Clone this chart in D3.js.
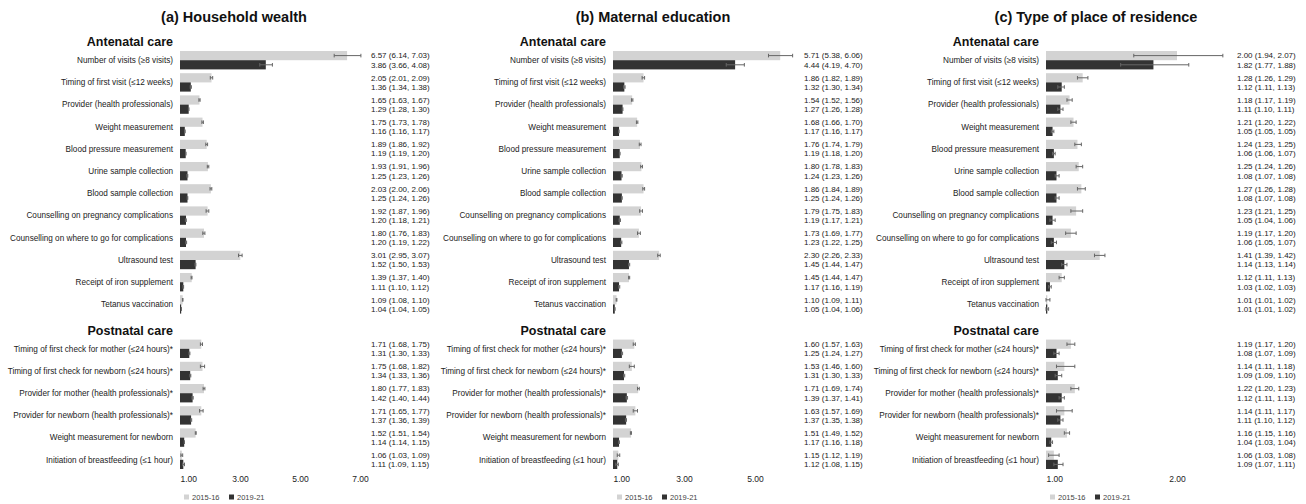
<!DOCTYPE html>
<html>
<head>
<meta charset="utf-8">
<script src="https://cdn.jsdelivr.net/npm/d3@7"></script>
<style>
  body { margin: 0; background: #fff; }
  text { font-family: "Liberation Sans", Arial, sans-serif; fill: #222; }
</style>
</head>
<body>
<svg id="chart" width="1306" height="504"></svg>
<script>
const antenatalLabels = [
  "Number of visits (\u22658 visits)",
  "Timing of first visit (\u226412 weeks)",
  "Provider (health professionals)",
  "Weight measurement",
  "Blood pressure measurement",
  "Urine sample collection",
  "Blood sample collection",
  "Counselling on pregnancy complications",
  "Counselling on where to go for complications",
  "Ultrasound test",
  "Receipt of iron supplement",
  "Tetanus vaccination",
];
const postnatalLabels = [
  "Timing of first check for mother (\u226424 hours)*",
  "Timing of first check for newborn (\u226424 hours)*",
  "Provider for mother (health professionals)*",
  "Provider for newborn (health professionals)*",
  "Weight measurement for newborn",
  "Initiation of breastfeeding (\u22641 hour)",
];
const years = ["2015-16", "2019-21"];

// [ratio, lower CI, upper CI] - antenatal rows then postnatal rows
const wealth2015 = [
  [6.57, 6.14, 7.03], [2.05, 2.01, 2.09], [1.65, 1.63, 1.67], [1.75, 1.73, 1.78],
  [1.89, 1.86, 1.92], [1.93, 1.91, 1.96], [2.03, 2.0, 2.06], [1.92, 1.87, 1.96],
  [1.8, 1.76, 1.83], [3.01, 2.95, 3.07], [1.39, 1.37, 1.4], [1.09, 1.08, 1.1],
  [1.71, 1.68, 1.75], [1.75, 1.68, 1.82], [1.8, 1.77, 1.83], [1.71, 1.65, 1.77],
  [1.52, 1.51, 1.54], [1.06, 1.03, 1.09],
];
const wealth2019 = [
  [3.86, 3.66, 4.08], [1.36, 1.34, 1.38], [1.29, 1.28, 1.3], [1.16, 1.16, 1.17],
  [1.19, 1.19, 1.2], [1.25, 1.23, 1.26], [1.25, 1.24, 1.26], [1.2, 1.18, 1.21],
  [1.2, 1.19, 1.22], [1.52, 1.5, 1.53], [1.11, 1.1, 1.12], [1.04, 1.04, 1.05],
  [1.31, 1.3, 1.33], [1.34, 1.33, 1.36], [1.42, 1.4, 1.44], [1.37, 1.36, 1.39],
  [1.14, 1.14, 1.15], [1.11, 1.09, 1.15],
];
const education2015 = [
  [5.71, 5.38, 6.06], [1.86, 1.82, 1.89], [1.54, 1.52, 1.56], [1.68, 1.66, 1.7],
  [1.76, 1.74, 1.79], [1.8, 1.78, 1.83], [1.86, 1.84, 1.89], [1.79, 1.75, 1.83],
  [1.73, 1.69, 1.77], [2.3, 2.26, 2.33], [1.45, 1.44, 1.47], [1.1, 1.09, 1.11],
  [1.6, 1.57, 1.63], [1.53, 1.46, 1.6], [1.71, 1.69, 1.74], [1.63, 1.57, 1.69],
  [1.51, 1.49, 1.52], [1.15, 1.12, 1.19],
];
const education2019 = [
  [4.44, 4.19, 4.7], [1.32, 1.3, 1.34], [1.27, 1.26, 1.28], [1.17, 1.16, 1.17],
  [1.19, 1.18, 1.2], [1.24, 1.23, 1.26], [1.25, 1.24, 1.26], [1.19, 1.17, 1.21],
  [1.23, 1.22, 1.25], [1.45, 1.44, 1.47], [1.17, 1.16, 1.19], [1.05, 1.04, 1.06],
  [1.25, 1.24, 1.27], [1.31, 1.3, 1.33], [1.39, 1.37, 1.41], [1.37, 1.35, 1.38],
  [1.17, 1.16, 1.18], [1.12, 1.08, 1.15],
];
const residence2015 = [
  [2.0, 1.94, 2.07], [1.28, 1.26, 1.29], [1.18, 1.17, 1.19], [1.21, 1.2, 1.22],
  [1.24, 1.23, 1.25], [1.25, 1.24, 1.26], [1.27, 1.26, 1.28], [1.23, 1.21, 1.25],
  [1.19, 1.17, 1.2], [1.41, 1.39, 1.42], [1.12, 1.11, 1.13], [1.01, 1.01, 1.02],
  [1.19, 1.17, 1.2], [1.14, 1.11, 1.18], [1.22, 1.2, 1.23], [1.14, 1.11, 1.17],
  [1.16, 1.15, 1.16], [1.06, 1.03, 1.08],
];
const residence2019 = [
  [1.82, 1.77, 1.88], [1.12, 1.11, 1.13], [1.11, 1.1, 1.11], [1.05, 1.05, 1.05],
  [1.06, 1.06, 1.07], [1.08, 1.07, 1.08], [1.08, 1.07, 1.08], [1.05, 1.04, 1.06],
  [1.06, 1.05, 1.07], [1.14, 1.13, 1.14], [1.03, 1.02, 1.03], [1.01, 1.01, 1.02],
  [1.08, 1.07, 1.09], [1.09, 1.09, 1.1], [1.12, 1.11, 1.13], [1.11, 1.1, 1.12],
  [1.04, 1.03, 1.04], [1.09, 1.07, 1.11],
];
// whiskers as drawn in panel (c) (wider than the printed CIs)
const residenceWhisk2015 = [
  [1.67, 2.35], [1.24, 1.32], [1.16, 1.2], [1.19, 1.23], [1.22, 1.27], [1.23, 1.28],
  [1.24, 1.3], [1.19, 1.28], [1.15, 1.23], [1.37, 1.45], [1.1, 1.14], [1.0, 1.03],
  [1.16, 1.22], [1.08, 1.22], [1.19, 1.25], [1.08, 1.2], [1.14, 1.18], [1.02, 1.1],
];
const residenceWhisk2019 = [
  [1.57, 2.09], [1.09, 1.14], [1.09, 1.13], [1.04, 1.06], [1.05, 1.07], [1.07, 1.1],
  [1.07, 1.1], [1.03, 1.07], [1.04, 1.08], [1.12, 1.16], [1.02, 1.04], [1.0, 1.02],
  [1.06, 1.1], [1.07, 1.12], [1.1, 1.14], [1.09, 1.13], [1.03, 1.05], [1.06, 1.13],
];

const panels = [
  { title: "(a) Household wealth", titleX: 234, x0: 180, x1: 360, max: 7, ticks: [1, 3, 5, 7],
    a: wealth2015, b: wealth2019 },
  { title: "(b) Maternal education", titleX: 653, x0: 613, x1: 755, max: 5, ticks: [1, 3, 5],
    a: education2015, b: education2019 },
  { title: "(c) Type of place of residence", titleX: 1096, x0: 1046, x1: 1177, max: 2, ticks: [1, 2],
    a: residence2015, b: residence2019, wa: residenceWhisk2015, wb: residenceWhisk2019 },
];

const colors = ["#d3d3d3", "#333333"];
const barH = 9.2;
const svg = d3.select("#chart");
const fmt = d3.format(".2f");

const labels = antenatalLabels.concat(postnatalLabels);
const slotOf = (i) => (i < 12 ? i : i + 1);
const y = d3.scaleLinear().domain([0, 18]).range([51, 450.6]);

panels.forEach(function (p) {
  const x = d3.scaleLinear().domain([1, p.max]).range([p.x0, p.x1]);
  const g = svg.append("g");

  g.append("text")
    .attr("x", p.titleX)
    .attr("y", 22)
    .attr("text-anchor", "middle")
    .attr("font-size", 14.5)
    .attr("font-weight", "bold")
    .style("fill", "#111")
    .text(p.title);

  [["Antenatal care", 0], ["Postnatal care", 13]].forEach(function (h) {
    g.append("text")
      .attr("x", x(1) - 7)
      .attr("y", y(h[1]) - 5)
      .attr("text-anchor", "end")
      .attr("font-size", 12.5)
      .attr("font-weight", "bold")
      .style("fill", "#111")
      .text(h[0]);
  });

  const rows = labels.map((lab, i) => ({
    label: lab,
    slot: slotOf(i),
    vals: [p.a[i], p.b[i]],
    whisk: [p.wa ? p.wa[i] : [p.a[i][1], p.a[i][2]], p.wb ? p.wb[i] : [p.b[i][1], p.b[i][2]]],
  }));

  const row = g.selectAll("g.row").data(rows).join("g").attr("class", "row");

  row.append("text")
    .attr("x", x(1) - 7)
    .attr("y", (d) => y(d.slot) + barH)
    .attr("dy", "0.35em")
    .attr("text-anchor", "end")
    .attr("font-size", 8.2)
    .text((d) => d.label);

  [0, 1].forEach(function (k) {
    row.append("rect")
      .attr("x", x(1))
      .attr("y", (d) => y(d.slot) + k * barH)
      .attr("width", (d) => x(d.vals[k][0]) - x(1))
      .attr("height", barH)
      .attr("fill", colors[k]);

    const cy = (d) => y(d.slot) + k * barH + barH / 2;
    row.append("line")
      .attr("x1", (d) => x(d.whisk[k][0]))
      .attr("x2", (d) => x(d.whisk[k][1]))
      .attr("y1", cy)
      .attr("y2", cy)
      .attr("stroke", "#666")
      .attr("stroke-width", 1);
    [0, 1].forEach(function (e) {
      row.append("line")
        .attr("x1", (d) => x(d.whisk[k][e]))
        .attr("x2", (d) => x(d.whisk[k][e]))
        .attr("y1", (d) => cy(d) - 1.8)
        .attr("y2", (d) => cy(d) + 1.8)
        .attr("stroke", "#666")
        .attr("stroke-width", 1);
    });

    row.append("text")
      .attr("x", x(1) + 191)
      .attr("y", cy)
      .attr("dy", "0.35em")
      .attr("font-size", 8)
      .text((d) => fmt(d.vals[k][0]) + " (" + fmt(d.vals[k][1]) + ", " + fmt(d.vals[k][2]) + ")");
  });

  const axis = g.append("g")
    .attr("transform", "translate(0, 473)")
    .call(d3.axisBottom(x).tickValues(p.ticks).tickFormat(fmt).tickSize(0).tickPadding(3));
  axis.select(".domain").remove();
  axis.selectAll("text")
    .attr("font-size", 8.5)
    .style("font-family", "'Liberation Sans', Arial, sans-serif")
    .style("fill", "#222")
    .attr("text-anchor", (d, i) => (i === 0 ? "start" : "middle"));

  const leg = g.append("g").attr("transform", `translate(${x(1) + 4}, 0)`);
  years.forEach(function (yr, i) {
    leg.append("rect")
      .attr("x", i * 45)
      .attr("y", 494.5)
      .attr("width", 5)
      .attr("height", 5)
      .attr("fill", colors[i]);
    leg.append("text")
      .attr("x", i * 45 + 8)
      .attr("y", 500)
      .attr("font-size", 7.5)
      .style("fill", "#444")
      .text(yr);
  });
});
</script>
</body>
</html>
